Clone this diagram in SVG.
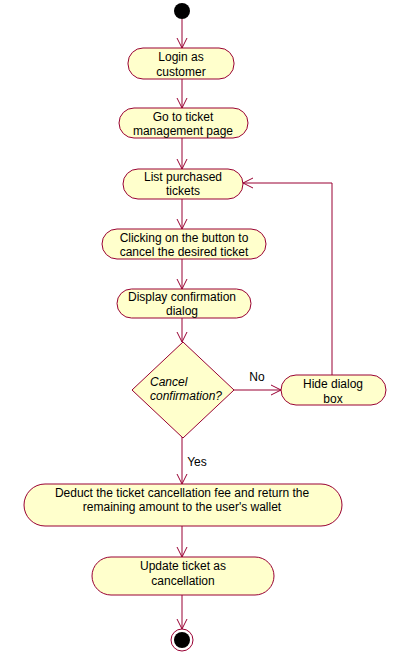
<svg xmlns="http://www.w3.org/2000/svg" width="407" height="658" viewBox="0 0 407 658">
<style>
.n{fill:#FFFFCC;stroke:#990033;stroke-width:1}
.t{font-family:"Liberation Sans",Arial,sans-serif;font-size:12px;fill:#000;text-anchor:middle}
.i{font-style:italic;text-anchor:start}
.c{fill:none;stroke:#990033;stroke-width:1;marker-end:url(#a)}
</style>
<defs>
<marker id="a" markerWidth="12" markerHeight="12" refX="10" refY="5" orient="auto" markerUnits="userSpaceOnUse" viewBox="0 0 12 10">
<path d="M0,0 L10,5 L0,10" fill="none" stroke="#990033" stroke-width="1"/>
</marker>
</defs>
<rect width="407" height="658" fill="#fff"/>
<g id="connectors">
<line class="c" x1="182" y1="19" x2="182" y2="48"/>
<line class="c" x1="182" y1="79" x2="182" y2="108"/>
<line class="c" x1="182" y1="138" x2="182" y2="169"/>
<line class="c" x1="182" y1="199" x2="182" y2="229"/>
<line class="c" x1="182" y1="259" x2="182" y2="289"/>
<line class="c" x1="182" y1="318" x2="182" y2="342"/>
<line class="c" x1="234" y1="390" x2="281" y2="390"/>
<polyline class="c" points="332,375 332,183 243,183"/>
<line class="c" x1="182" y1="437" x2="182" y2="484"/>
<line class="c" x1="182" y1="526" x2="182" y2="557"/>
<line class="c" x1="182" y1="595" x2="182" y2="629"/>
<text class="t" x="257" y="381">No</text>
<text class="t" x="197" y="466">Yes</text>
</g>
<g id="start"><circle cx="182" cy="11" r="8" fill="#000"/></g>
<g id="login"><rect class="n" x="128" y="48" width="106" height="31" rx="15"/>
<text class="t" x="181" y="61">Login as</text><text class="t" x="181" y="76">customer</text></g>
<g id="goto"><rect class="n" x="119" y="108" width="129" height="30" rx="15"/>
<text class="t" x="183" y="121">Go to ticket</text><text class="t" x="183" y="135">management page</text></g>
<g id="list"><rect class="n" x="123" y="169" width="120" height="30" rx="15"/>
<text class="t" x="183" y="181">List purchased</text><text class="t" x="183" y="195">tickets</text></g>
<g id="click"><rect class="n" x="102" y="229" width="164" height="30" rx="15"/>
<text class="t" x="184" y="242">Clicking on the button to</text><text class="t" x="184" y="256">cancel the desired ticket</text></g>
<g id="display"><rect class="n" x="117" y="289" width="134" height="29" rx="14.5"/>
<text class="t" x="182" y="301">Display confirmation</text><text class="t" x="182" y="315">dialog</text></g>
<g id="decision"><polygon class="n" points="183,342 234,390 183,438 132,390"/>
<text class="t i" x="150" y="386">Cancel</text><text class="t i" x="150" y="400">confirmation?</text></g>
<g id="hide"><rect class="n" x="281" y="375" width="105" height="30" rx="15"/>
<text class="t" x="333" y="388">Hide dialog</text><text class="t" x="333" y="403">box</text></g>
<g id="deduct"><rect class="n" x="24" y="484" width="318" height="42" rx="21"/>
<text class="t" x="182" y="497">Deduct the ticket cancellation fee and return the</text><text class="t" x="182" y="511">remaining amount to the user's wallet</text></g>
<g id="update"><rect class="n" x="92" y="557" width="182" height="38" rx="19"/>
<text class="t" x="183" y="570">Update ticket as</text><text class="t" x="183" y="585">cancellation</text></g>
<g id="end"><circle cx="182" cy="640" r="11" fill="#fff" stroke="#990033"/><circle cx="182" cy="640" r="8" fill="#000"/></g>
</svg>
